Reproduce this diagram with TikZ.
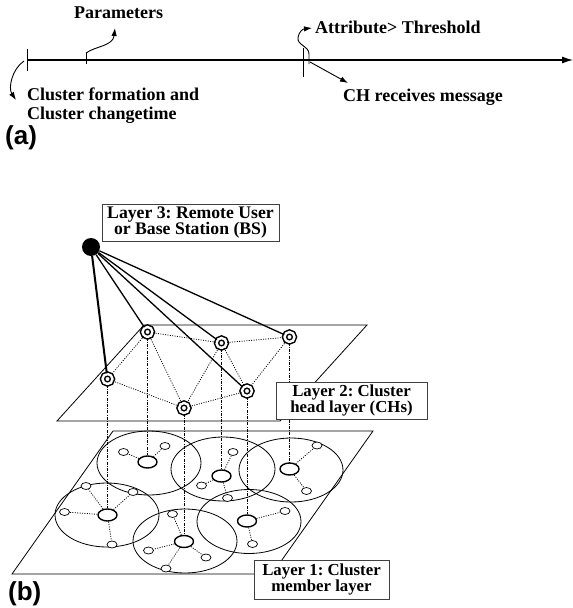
\documentclass[tikz,border=0pt]{standalone}
\usepackage{fontspec}
\setmainfont{Liberation Serif}
\newfontfamily\subfigfont{Liberation Sans}
\frenchspacing
\usetikzlibrary{
  arrows.meta,
  calc,
  positioning,
  shapes,
}
\tikzstyle{arrow} = [
  -{Latex[length=8pt,width=5.5pt]},
  line width=0.9pt,
]
\tikzstyle{axis} = [
  -{Latex[length=11pt,width=7pt]},
  line width=1.1pt,
]
\tikzstyle{tick} = [line width=1pt]
\tikzstyle{tltext} = [font=\fontsize{18}{18}\selectfont\bfseries, inner sep=0pt]
\tikzstyle{subfig} = [font=\fontsize{26}{26}\selectfont\subfigfont\bfseries, inner sep=0pt]
\tikzstyle{layerbox} = [
  rectangle,
  draw=black!75,
  line width=1pt,
  fill=white,
  align=center,
  inner sep=0pt,
]
\tikzstyle{plane} = [line width=0.8pt]
\tikzstyle{chnode} = [circle,draw,double,double distance=2.4pt,line width=1.5pt,minimum size=10pt,inner sep=0pt,fill=white]
\tikzstyle{headnode} = [ellipse,draw,line width=1.4pt,minimum width=19pt,minimum height=12pt,inner sep=0pt,fill=white]
\tikzstyle{member} = [ellipse,draw,line width=0.7pt,minimum width=10pt,minimum height=7pt,inner sep=0pt,fill=white]
\tikzstyle{cluster} = [ellipse,draw,line width=0.8pt,minimum width=104pt,minimum height=64pt,inner sep=0pt]
\tikzstyle{bslink} = [line width=1.3pt]
\tikzstyle{chlink} = [dash pattern=on 1pt off 1.4pt,line width=0.8pt]
\tikzstyle{drop} = [dash pattern=on 3pt off 1.3pt on 0.8pt off 1.3pt,line width=0.6pt]

\begin{document}
\begin{tikzpicture}[x=1pt,y=-1pt]
\useasboundingbox (0,0) rectangle (573,608);

% (a) time line
\coordinate (p0) at (27,60);
\coordinate (p1) at (86,60);
\coordinate (p2) at (303,60);
\coordinate (tend) at (573,60);
\draw[axis] (p0) -- (tend);
\draw[tick] ($(p0)+(0,-11)$) -- ($(p0)+(0,11)$);
\draw[tick] ($(p1)+(0,-7)$) -- ($(p1)+(0,4)$);
\draw[tick] ($(p2)+(0,-12)$) -- ($(p2)+(0,17)$);

\node[tltext,anchor=base west] (par) at (74,18) {Parameters};
\node[tltext,anchor=base west] (attr) at (315,33) {Attribute> Threshold};
\node[tltext,anchor=base west] (chmsg) at (343,101) {CH receives message};
\node[tltext,anchor=base west] (form) at (27,100) {Cluster formation and};
\node[tltext,anchor=base west] (form2) at ($(form.base west)+(0,19)$) {Cluster changetime};
\node[subfig,anchor=base west] (suba) at (5,144) {(a)};

\coordinate (partip) at (115,28);
\coordinate (attrtip) at (312,28);
\coordinate (chtip) at (348,83);
\coordinate (formtip) at (16,100);
\draw[arrow] ($(p1)+(0,-7)$) .. controls (96,46) and (113,46) .. (partip);
\draw[arrow] (309,64) -- (309,54) .. controls (309,46) and (297,45) .. (298,38) .. controls (299,31) and (303,29) .. (attrtip);
\draw[arrow] (310,62) -- (chtip);
\draw[arrow] (24,61) .. controls (12,69) and (8,88) .. (formtip);

% (b) layers
\draw[plane] (57,421) -- (144,325) -- (367,325) -- (280,421) -- cycle;
\draw[plane] (12,574) -- (113,431) -- (373,431) -- (272,574) -- cycle;

\node[cluster] (clu1) at (149,463) {};
\node[cluster] (clu2) at (223,469) {};
\node[cluster] (clu3) at (291,470) {};
\node[cluster] (clu4) at (107,515) {};
\node[cluster] (clu5) at (185,541) {};
\node[cluster] (clu6) at (249,521.5) {};

\node[headnode] (hd1) at (147.5,462) {};
\node[headnode] (hd2) at (221.5,476) {};
\node[headnode] (hd3) at (289.5,469) {};
\node[headnode] (hd4) at (107.5,515) {};
\node[headnode] (hd5) at (184,541.5) {};
\node[headnode] (hd6) at (247,521) {};

\node[member] (m11) at (123.5,452) {};
\node[member] (m12) at (165,446) {};
\node[member] (m21) at (233,452) {};
\node[member] (m22) at (201.5,485.5) {};
\node[member] (m23) at (227.5,498) {};
\node[member] (m31) at (317,445.5) {};
\node[member] (m32) at (306.5,491) {};
\node[member] (m41) at (86,486) {};
\node[member] (m42) at (133,492) {};
\node[member] (m43) at (64.5,512) {};
\node[member] (m44) at (112,544.5) {};
\node[member] (m51) at (172.5,514) {};
\node[member] (m52) at (148.5,550.5) {};
\node[member] (m53) at (206,557.5) {};
\node[member] (m54) at (166,568.5) {};
\node[member] (m61) at (285,511) {};
\node[member] (m62) at (252.5,544) {};

\draw[chlink] (hd1) -- (m11);
\draw[chlink] (hd1) -- (m12);
\draw[chlink] (hd2) -- (m21);
\draw[chlink] (hd2) -- (m22);
\draw[chlink] (hd2) -- (m23);
\draw[chlink] (hd3) -- (m31);
\draw[chlink] (hd3) -- (m32);
\draw[chlink] (hd4) -- (m41);
\draw[chlink] (hd4) -- (m42);
\draw[chlink] (hd4) -- (m43);
\draw[chlink] (hd4) -- (m44);
\draw[chlink] (hd5) -- (m51);
\draw[chlink] (hd5) -- (m52);
\draw[chlink] (hd5) -- (m53);
\draw[chlink] (hd5) -- (m54);
\draw[chlink] (hd6) -- (m61);
\draw[chlink] (hd6) -- (m62);

\node[chnode] (ch1) at (147.5,332) {};
\node[chnode] (ch2) at (221.5,343) {};
\node[chnode] (ch3) at (289.5,337) {};
\node[chnode] (ch4) at (107.5,379) {};
\node[chnode] (ch5) at (184,408) {};
\node[chnode] (ch6) at (247,391) {};

\draw[chlink] (ch1) -- (ch2);
\draw[chlink] (ch2) -- (ch3);
\draw[chlink] (ch1) -- (ch4);
\draw[chlink] (ch1) -- (ch5);
\draw[chlink] (ch4) -- (ch5);
\draw[chlink] (ch5) -- (ch6);
\draw[chlink] (ch2) -- (ch5);
\draw[chlink] (ch2) -- (ch6);
\draw[chlink] (ch3) -- (ch6);

\draw[drop] (ch1) -- (hd1);
\draw[drop] (ch2) -- (hd2);
\draw[drop] (ch3) -- (hd3);
\draw[drop] (ch4) -- (hd4);
\draw[drop] (ch5) -- (hd5);
\draw[drop] (ch6) -- (hd6);

\node[circle,fill,minimum size=18pt,inner sep=0pt] (bs) at (91,247) {};
\draw[bslink,line width=2pt] (bs) -- (ch4);
\draw[bslink] (bs) -- (ch1);
\draw[bslink] (bs) -- (ch6);
\draw[bslink] (bs) -- (ch2);
\draw[bslink] (bs) -- (ch3);

\node[layerbox,minimum width=177pt,minimum height=37pt,font=\fontsize{17.7}{16.5}\selectfont\bfseries] (lay3) at (190.5,222.5) {Layer 3: Remote User\\ or Base Station (BS)};
\node[layerbox,minimum width=151pt,minimum height=37pt,font=\fontsize{16.8}{16}\selectfont\bfseries] (lay2) at (351.5,400.5) {Layer 2: Cluster\\head layer (CHs)};
\node[layerbox,minimum width=135pt,minimum height=39pt,font=\fontsize{16.8}{16}\selectfont\bfseries] (lay1) at (321.5,579.5) {Layer 1: Cluster\\member layer};
\node[subfig,anchor=base west] (subb) at (8,600) {(b)};
\end{tikzpicture}
\end{document}
